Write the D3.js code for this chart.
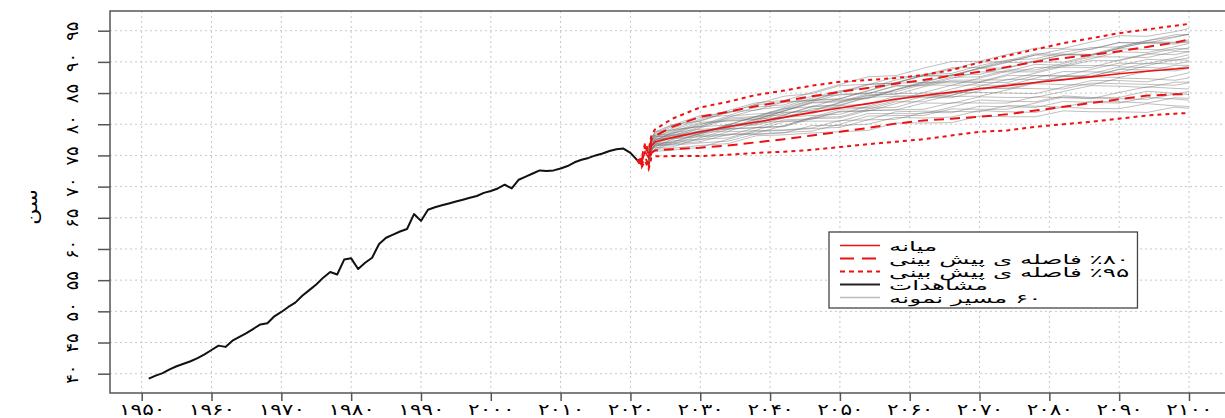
<!DOCTYPE html>
<html>
<head>
<meta charset="utf-8">
<script src="https://d3js.org/d3.v7.min.js"></script>
<style>
    body { margin: 0; background: #fff; }
    svg text { font-family: "DejaVu Sans", sans-serif; fill: #000; }
</style>
</head>
<body>
<svg id="chart" width="1225" height="418"></svg>
<script>
    // observed life expectancy
    let obsYears = [1951, 1952, 1953, 1954, 1955, 1956, 1957, 1958, 1959, 1960,
        1961, 1962, 1963, 1964, 1965, 1966, 1967, 1968, 1969, 1970,
        1971, 1972, 1973, 1974, 1975, 1976, 1977, 1978, 1979, 1980,
        1981, 1982, 1983, 1984, 1985, 1986, 1987, 1988, 1989, 1990,
        1991, 1992, 1993, 1994, 1995, 1996, 1997, 1998, 1999, 2000,
        2001, 2002, 2003, 2004, 2005, 2006, 2007, 2008, 2009, 2010,
        2011, 2012, 2013, 2014, 2015, 2016, 2017, 2018, 2019, 2020, 2021]
    let obsAge = [39.2, 39.7, 40.1, 40.7, 41.2, 41.6, 42.0, 42.5, 43.1, 43.8,
        44.5, 44.3, 45.3, 45.9, 46.5, 47.2, 47.9, 48.1, 49.2, 49.9,
        50.7, 51.4, 52.5, 53.4, 54.3, 55.4, 56.3, 55.9, 58.3, 58.5,
        56.8, 57.8, 58.6, 60.8, 61.8, 62.3, 62.8, 63.2, 65.6, 64.5,
        66.3, 66.7, 67.0, 67.3, 67.6, 67.9, 68.2, 68.5, 69.0, 69.3,
        69.7, 70.3, 69.7, 71.1, 71.6, 72.1, 72.6, 72.5, 72.6, 72.9,
        73.3, 73.9, 74.3, 74.6, 75.0, 75.3, 75.7, 76.0, 76.1, 75.4, 74.2]

    // forecast
    let fcYears = [2021, 2021.6, 2022.1, 2022.6, 2023.0, 2023.5, 2026, 2030, 2034, 2038, 2042, 2046,
        2050, 2054, 2058, 2062, 2066, 2070, 2074, 2078, 2082, 2086, 2090, 2094, 2098, 2100]
    let fcMedian = [74.2, 73.9, 75.6, 74.6, 76.5, 77.15, 77.85, 78.8, 79.6, 80.35, 81.1, 81.9,
        82.6, 83.3, 84.0, 84.6, 85.15, 85.7, 86.2, 86.7, 87.15, 87.6, 88.1, 88.5, 88.85, 89.05]
    let fcUp80 = [74.2, 74.2, 76.4, 75.3, 77.5, 78.1, 79.6, 81.2, 82.0, 82.9, 83.7, 84.5,
        85.2, 85.8, 86.5, 87.1, 87.8, 88.4, 89.2, 90.0, 90.6, 91.1, 91.7, 92.4, 93.1, 93.6]
    let fcLow80 = [74.2, 73.5, 74.7, 73.5, 75.4, 75.8, 76.0, 76.25, 76.6, 77.1, 77.6, 78.2,
        78.8, 79.4, 80.1, 80.6, 80.9, 81.2, 81.6, 82.2, 82.8, 83.4, 84.0, 84.6, 84.8, 84.8]
    let fcUp95 = [74.2, 74.5, 77.0, 75.8, 78.2, 79.15, 80.9, 82.7, 83.6, 84.7, 85.4, 86.2,
        86.8, 87.1, 87.4, 87.9, 88.7, 89.9, 91.0, 92.0, 93.0, 93.8, 94.6, 95.2, 95.8, 96.1]
    let fcLow95 = [74.2, 73.1, 74.1, 72.8, 74.6, 74.85, 74.9, 74.9, 75.1, 75.4, 75.6, 75.9,
        76.35, 76.8, 77.2, 77.6, 78.2, 78.8, 79.0, 79.6, 80.0, 80.4, 80.9, 81.4, 81.7, 81.8]

    // sample paths: distance from the median, from fcYears[3] onwards
    let pathStart = 3
    let pathOffsets = [
        [-0.6, 0.4, 0.6, 1.1, 0.9, 1.5, 2.0, 1.7, 2.3, 2.8, 2.5, 3.1, 3.4, 3.0, 3.7, 4.1, 3.8, 4.4, 4.7, 4.3, 4.9, 5.2, 5.4],
        [0.3, -0.8, -0.4, -1.0, -1.6, -1.2, -2.0, -2.5, -2.1, -2.8, -3.3, -2.9, -3.6, -4.0, -3.5, -4.2, -4.8, -4.4, -5.1, -5.6, -5.2, -5.9, -6.2],
        [-1.2, -0.2, 0.2, 0.7, 1.3, 0.9, 0.4, 1.0, 1.6, 1.2, 0.8, 1.5, 2.1, 1.7, 1.1, 1.8, 2.4, 2.0, 1.5, 2.2, 2.8, 2.3, 2.6],
        [0.5, 1.0, 0.9, 0.3, -0.3, 0.2, -0.5, -0.1, 0.6, 0.1, -0.6, -0.2, 0.5, 1.1, 0.6, 0.0, 0.7, 1.3, 0.8, 0.2, 0.9, 1.5, 1.2],
        [-0.9, -1.3, -1.1, -0.5, -1.2, -1.8, -1.3, -0.7, -1.4, -2.1, -1.6, -2.3, -2.9, -2.4, -1.8, -2.5, -3.1, -2.6, -3.3, -3.8, -3.2, -3.9, -4.3],
        [0.8, 1.3, 1.4, 2.0, 2.6, 2.2, 2.9, 3.4, 3.0, 3.6, 3.1, 2.6, 3.3, 3.9, 3.4, 4.0, 4.6, 4.1, 3.6, 4.3, 4.9, 5.5, 5.3],
        [-0.2, -0.6, -0.9, -1.5, -1.0, -0.4, -0.9, -1.4, -0.8, -0.2, -0.7, -1.3, -0.6, -0.1, -0.6, -1.2, -1.8, -1.2, -0.6, -1.1, -1.7, -1.1, -0.8],
        [1.0, 0.6, 0.2, 0.8, 0.4, -0.2, 0.4, 1.0, 1.5, 1.0, 1.6, 2.2, 1.7, 1.1, 1.7, 2.3, 2.9, 2.3, 2.9, 3.5, 3.0, 3.6, 3.9],
        [-1.4, -0.9, -0.6, -1.2, -1.8, -2.3, -1.9, -2.4, -3.0, -2.6, -2.0, -2.6, -3.2, -2.7, -3.3, -3.8, -3.3, -2.8, -3.4, -4.0, -4.5, -4.0, -3.8],
        [0.1, 0.7, 1.1, 0.6, 1.1, 1.7, 1.3, 0.8, 0.3, 0.9, 1.4, 0.9, 0.4, -0.2, 0.4, 1.0, 0.5, -0.1, 0.5, 1.1, 0.6, 0.1, 0.3],
        [-0.4, 0.1, -0.3, -0.8, -0.3, 0.3, 0.9, 1.4, 0.9, 1.5, 2.0, 2.6, 2.1, 2.7, 3.3, 2.8, 3.4, 4.0, 3.5, 4.1, 4.6, 4.2, 4.5],
        [0.6, -0.3, -0.7, -0.2, -0.8, -1.4, -0.9, -1.5, -1.0, -0.5, -1.1, -1.7, -2.2, -1.7, -2.3, -2.8, -2.3, -2.9, -3.5, -3.0, -2.5, -3.1, -3.4],
        [-0.8, 0.9, 1.6, 2.1, 1.7, 2.3, 2.8, 2.4, 1.9, 2.5, 3.0, 3.6, 3.1, 2.6, 3.2, 3.7, 3.3, 2.8, 3.4, 4.0, 3.5, 3.0, 3.2],
        [0.2, -1.1, -1.5, -2.0, -2.5, -2.0, -1.5, -2.1, -2.6, -3.1, -2.6, -2.0, -2.5, -3.1, -3.7, -3.2, -3.8, -4.4, -3.9, -4.5, -5.1, -4.6, -4.9],
        [-0.1, 0.2, 0.0, 0.5, 0.1, -0.4, 0.2, 0.7, 0.2, 0.8, 1.3, 0.8, 1.4, 1.9, 1.4, 0.9, 1.5, 2.1, 2.6, 2.1, 2.7, 3.3, 3.0],
        [1.2, 1.6, 1.0, 1.5, 2.0, 2.6, 3.1, 2.7, 3.2, 3.8, 4.3, 3.8, 4.4, 4.9, 4.4, 5.0, 5.5, 5.0, 5.6, 6.1, 5.6, 6.0, 6.3],
        [-1.0, -0.5, -0.2, -0.7, -0.2, 0.4, -0.1, -0.6, -1.1, -0.6, -1.2, -0.7, -0.1, -0.7, -1.2, -0.7, -0.1, 0.5, 0.0, -0.6, 0.0, 0.6, 0.4],
        [0.4, 0.0, 0.5, 0.0, 0.6, 1.2, 0.7, 1.3, 1.9, 1.4, 0.9, 1.5, 2.0, 1.5, 1.0, 1.6, 1.1, 0.6, 1.2, 1.7, 1.2, 1.8, 2.1],
        [-0.3, -1.0, -1.3, -0.8, -1.3, -0.8, -1.4, -2.0, -2.5, -2.0, -2.6, -3.2, -2.7, -3.3, -2.8, -3.4, -4.0, -3.5, -4.1, -4.7, -4.2, -4.8, -5.2],
        [0.7, 0.5, 0.3, 0.9, 1.5, 1.0, 0.5, 1.1, 1.7, 2.2, 1.7, 1.2, 1.8, 2.4, 1.9, 2.5, 2.0, 2.6, 3.2, 2.7, 2.2, 2.8, 2.6],
        [-0.7, 0.0, 0.4, -0.1, -0.6, -0.1, 0.5, 0.0, -0.5, -1.0, -0.4, 0.2, -0.3, -0.9, -0.3, 0.3, -0.2, -0.8, -1.3, -0.7, -1.2, -1.8, -1.6],
        [0.9, 1.1, 0.7, 1.3, 0.8, 1.4, 0.9, 0.4, 1.0, 0.5, 1.1, 1.6, 2.2, 2.8, 2.3, 2.9, 3.5, 4.0, 3.5, 4.1, 4.7, 4.3, 4.0],
        [-0.5, -0.1, -0.5, -1.1, -0.6, -1.2, -1.8, -1.3, -0.8, -1.4, -0.9, -0.4, -1.0, -0.5, 0.1, -0.5, 0.0, 0.6, 0.1, 0.7, 0.2, -0.3, -0.1],
        [0.0, 0.8, 1.2, 1.8, 2.3, 1.8, 2.4, 2.0, 2.6, 2.1, 1.6, 2.1, 1.6, 2.2, 2.7, 2.2, 1.7, 2.3, 1.8, 1.3, 1.9, 1.4, 1.6],
        [-1.1, -0.7, -0.4, 0.1, -0.4, 0.2, -0.3, 0.3, -0.2, 0.4, -0.1, 0.5, 0.0, -0.5, 0.1, -0.4, -1.0, -1.5, -1.0, -1.6, -2.1, -2.6, -2.4],
        [0.3, -0.4, -0.8, -0.3, 0.2, -0.3, -0.9, -0.4, -1.0, -1.6, -1.1, -1.7, -1.2, -1.8, -1.3, -1.9, -2.4, -1.9, -1.4, -2.0, -2.6, -2.1, -2.3],
        [-0.2, 0.6, 0.8, 0.3, 0.8, 0.3, 0.9, 1.5, 2.0, 2.6, 3.1, 2.6, 3.2, 3.7, 4.3, 3.8, 4.4, 3.9, 4.5, 5.0, 4.5, 5.1, 5.4],
        [0.5, 0.2, -0.2, 0.4, -0.1, -0.7, -0.2, 0.4, 0.9, 0.4, 1.0, 0.5, -0.1, 0.5, 1.0, 0.5, 1.1, 0.6, 0.1, 0.7, 1.3, 0.8, 1.0],
        [-0.6, -0.9, -1.2, -1.7, -2.2, -2.7, -2.2, -2.8, -3.3, -3.8, -4.3, -3.8, -4.4, -4.9, -4.4, -5.0, -5.5, -5.0, -5.6, -6.1, -6.6, -6.1, -6.5],
        [0.2, 1.2, 1.7, 1.2, 1.8, 2.4, 1.9, 2.5, 2.0, 1.5, 2.1, 2.7, 3.2, 2.7, 3.3, 3.8, 4.4, 4.9, 4.4, 5.0, 4.5, 4.0, 4.3]
    ]

    let xTicks = [1950, 1960, 1970, 1980, 1990, 2000, 2010, 2020, 2030, 2040, 2050, 2060, 2070, 2080, 2090, 2100]
    let xTickLabels = ["۱۹۵۰", "۱۹۶۰", "۱۹۷۰", "۱۹۸۰", "۱۹۹۰", "۲۰۰۰", "۲۰۱۰", "۲۰۲۰",
        "۲۰۳۰", "۲۰۴۰", "۲۰۵۰", "۲۰۶۰", "۲۰۷۰", "۲۰۸۰", "۲۰۹۰", "۲۱۰۰"]
    let yTicks = [40, 45, 50, 55, 60, 65, 70, 75, 80, 85, 90, 95]
    let yTickLabels = ["۴۰", "۴۵", "۵۰", "۵۵", "۶۰", "۶۵", "۷۰", "۷۵", "۸۰", "۸۵", "۹۰", "۹۵"]
    let yTitle = "سن"
    let legendLabels = ["میانه", "٪۸۰ فاصله ی پیش بینی", "٪۹۵ فاصله ی پیش بینی", "مشاهدات", "۶۰ مسیر نمونه"]

    let box = {left: 110, top: 11, right: 1232, bottom: 393}

    let svg = d3.select("#chart")
    let x = d3.scaleLinear().domain([1950, 2100]).range([141.7, 1189])
    let y = d3.scaleLinear().domain([40, 95]).range([373.7, 30.7])

    // grid
    let grid = svg.append("g")
    grid.selectAll(".vg").data(xTicks).enter().append("line")
        .attr("x1", d => x(d)).attr("x2", d => x(d))
        .attr("y1", box.top).attr("y2", box.bottom)
    grid.selectAll(".hg").data(yTicks).enter().append("line")
        .attr("x1", box.left).attr("x2", box.right)
        .attr("y1", d => y(d)).attr("y2", d => y(d))
    grid.selectAll("line")
        .attr("stroke", "#c8c8c8")
        .attr("stroke-width", 1)
        .attr("stroke-dasharray", "2,3")

    // axes
    let xAxis = d3.axisBottom(x).tickValues(xTicks).tickSize(8).tickPadding(3)
        .tickFormat((d, i) => xTickLabels[i])
    let gx = svg.append("g").attr("transform", `translate(0,${box.bottom})`).call(xAxis)
    let yAxis = d3.axisLeft(y).tickValues(yTicks).tickSize(12)
        .tickFormat((d, i) => yTickLabels[i])
    let gy = svg.append("g").attr("transform", `translate(${box.left},0)`).call(yAxis)

    for (let g of [gx, gy]) {
        g.select(".domain").remove()
        g.selectAll(".tick line").attr("stroke", "#555").attr("stroke-width", 1.5)
        g.selectAll(".tick text").attr("fill", "#000")
    }
    gx.selectAll(".tick text")
        .style("font-size", "16px")
        .attr("transform", "scale(1.35,1)")
    gy.selectAll(".tick text")
        .style("font-size", "17px")
        .attr("x", 0).attr("dy", null)
        .attr("text-anchor", "middle")
        .attr("dominant-baseline", "central")
        .attr("transform", "translate(-38,0) rotate(-90) scale(1.05,1)")

    svg.append("text")
        .attr("transform", "translate(31,207) rotate(-90) scale(1.3,1)")
        .attr("text-anchor", "middle")
        .attr("dominant-baseline", "central")
        .style("font-size", "17px")
        .text(yTitle)

    // sample paths
    let line = d3.line().x(d => x(d[0])).y(d => y(d[1]))
    let paths = pathOffsets.map(off => off.map((v, i) => [fcYears[pathStart + i], fcMedian[pathStart + i] + v]))
    svg.append("g").selectAll("path").data(paths).enter().append("path")
        .attr("d", line)
        .attr("fill", "none")
        .attr("stroke", "#666")
        .attr("stroke-opacity", 0.42)
        .attr("stroke-width", 1)

    // observed
    svg.append("path")
        .attr("d", line(obsYears.map((d, i) => [d, obsAge[i]])))
        .attr("fill", "none")
        .attr("stroke", "#111")
        .attr("stroke-width", 2)
        .attr("stroke-linejoin", "round")

    // forecast median and intervals
    let bands = [
        {values: fcUp95, dash: "4,4", width: 2},
        {values: fcLow95, dash: "4,4", width: 2},
        {values: fcUp80, dash: "10,6", width: 2},
        {values: fcLow80, dash: "10,6", width: 2},
        {values: fcMedian, dash: null, width: 1.6}
    ]
    svg.append("g").selectAll("path").data(bands).enter().append("path")
        .attr("d", b => line(fcYears.map((d, i) => [d, b.values[i]])))
        .attr("fill", "none")
        .attr("stroke", "#ee1111")
        .attr("stroke-width", b => b.width)
        .attr("stroke-dasharray", b => b.dash)

    // plot frame
    svg.append("rect")
        .attr("x", box.left).attr("y", box.top)
        .attr("width", box.right - box.left).attr("height", box.bottom - box.top)
        .attr("fill", "none")
        .attr("stroke", "#555")
        .attr("stroke-width", 1.5)

    // legend
    let legendStyles = [
        {color: "#ee1111", dash: null, width: 1.6},
        {color: "#ee1111", dash: "14,8", width: 2},
        {color: "#ee1111", dash: "5,4", width: 2},
        {color: "#222", dash: null, width: 2},
        {color: "#bbb", dash: null, width: 1.5}
    ]
    let textStretch = 1.9
    let textLeft = 889
    let legend = svg.append("g")
    let legendBox = legend.append("rect")
        .attr("x", 829).attr("y", 232).attr("height", 76)
        .attr("fill", "#fff").attr("stroke", "#444").attr("stroke-width", 1.3)
    let rows = legend.selectAll(".row").data(legendLabels).enter().append("g")
        .attr("transform", (d, i) => `translate(0,${245.5 + i * 13})`)
    rows.append("line")
        .attr("x1", 840).attr("x2", 880)
        .attr("stroke", (d, i) => legendStyles[i].color)
        .attr("stroke-width", (d, i) => legendStyles[i].width)
        .attr("stroke-dasharray", (d, i) => legendStyles[i].dash)
    let maxW = 0
    rows.append("text")
        .attr("direction", "rtl")
        .attr("text-anchor", "middle")
        .attr("dominant-baseline", "central")
        .style("font-size", "13px")
        .text(d => d)
        .each(function () {
            let w = this.getComputedTextLength()
            maxW = Math.max(maxW, w)
            d3.select(this)
                .attr("x", w / 2)
                .attr("transform", `translate(${textLeft},1) scale(${textStretch},1)`)
        })
    legendBox.attr("width", textLeft + maxW * textStretch + 8 - 829)
</script>
</body>
</html>
